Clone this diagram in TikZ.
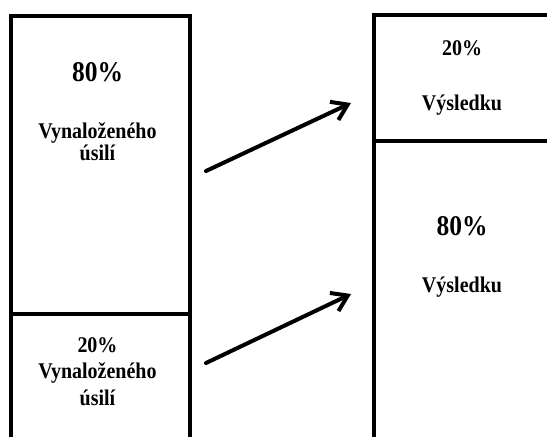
\documentclass[tikz,border=0pt]{standalone}
\usepackage{fontspec}
\setmainfont{Liberation Serif}
\usetikzlibrary{arrows.meta}
% slightly tall lettering
\newcommand\tallbox[1]{\scalebox{1}[1.12]{#1}}
\begin{document}
\begin{tikzpicture}[x=1pt,y=-1pt,
  frame/.style={draw=black, line width=4pt},
  big/.style={anchor=base, inner sep=0pt, font=\bfseries\fontsize{25.5}{30}\selectfont},
  small/.style={anchor=base, inner sep=0pt, font=\bfseries\fontsize{20}{24}\selectfont},
  flow/.style={line width=4pt, line cap=round,
    -{Straight Barb[length=15pt,width=20pt,line width=4pt]}}]
  \useasboundingbox (0,0) rectangle (547,437);
  \clip (0,0) rectangle (547,437);

  % left column: effort
  \draw[frame] (11,16) rectangle (190,480);
  \draw[frame] (11,314) -- (190,314);
  % right column: results
  \draw[frame] (374,15) rectangle (600,480);
  \draw[frame] (374,141) -- (600,141);

  % labels, left column
  \node[big]   (effortBig)    at (97.5,81)  {\tallbox{80\%}};
  \node[small] (effortBigA)   at (97.5,138) {\tallbox{Vynaloženého}};
  \node[small] (effortBigB)   at (97.5,160) {\tallbox{úsilí}};
  \node[small] (effortSmall)  at (97.5,352) {\tallbox{20\%}};
  \node[small] (effortSmallA) at (97.5,378) {\tallbox{Vynaloženého}};
  \node[small] (effortSmallB) at (97.5,405) {\tallbox{úsilí}};

  % labels, right column
  \node[small] (resSmall)  at (462,55)  {\tallbox{20\%}};
  \node[small] (resSmallA) at (462,110) {\tallbox{Výsledku}};
  \node[big]   (resBig)    at (462,235) {\tallbox{80\%}};
  \node[small] (resBigA)   at (462,292) {\tallbox{Výsledku}};

  % arrows between the columns
  \coordinate (upS) at (206,171);
  \coordinate (upE) at (351,103);
  \coordinate (loS) at (206,363);
  \coordinate (loE) at (351,294);
  \draw[flow] (upS) -- (upE);
  \draw[flow] (loS) -- (loE);
\end{tikzpicture}
\end{document}
